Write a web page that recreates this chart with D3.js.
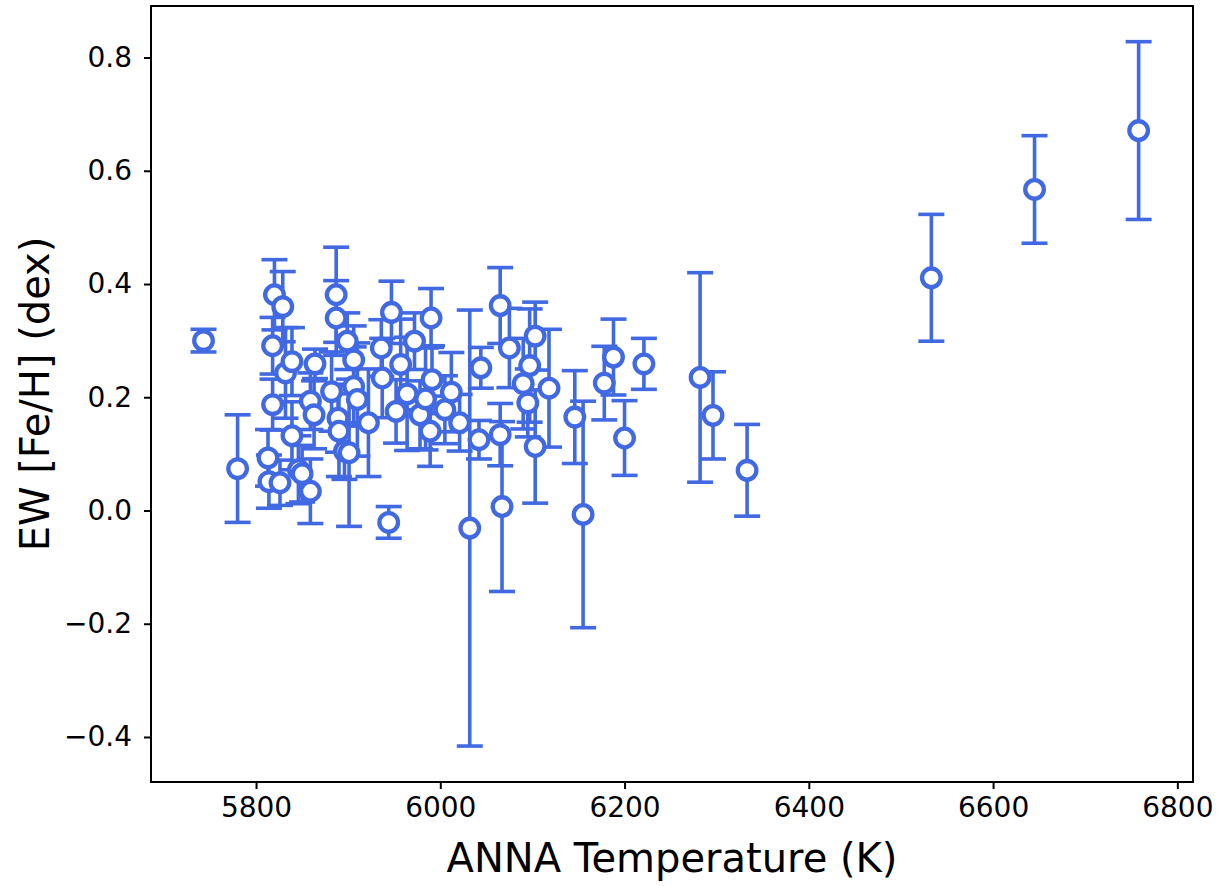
<!DOCTYPE html>
<html>
<head>
<meta charset="utf-8">
<script src="https://cdn.jsdelivr.net/npm/d3@7"></script>
<style>
  body { margin: 0; background: #fff; }
  text { font-family: "DejaVu Sans", sans-serif; }
</style>
</head>
<body>
<div id="chart"></div>
<script>
// data
var temps = [5743, 5780, 5813, 5814, 5818, 5818, 5820, 5826, 5829, 5832,
             5839, 5839, 5846, 5850, 5859, 5859, 5863, 5864, 5882, 5887,
             5887, 5889, 5890, 5899, 5896, 5901, 5906, 5906, 5910, 5922,
             5936, 5937, 5944, 5947, 5952, 5957, 5964, 5972, 5978, 5984,
             5990, 5991, 5989, 6005, 6012, 6021, 6032, 6042, 6044, 6065,
             6065, 6067, 6075, 6090, 6095, 6097, 6103, 6103, 6118, 6146,
             6155, 6178, 6188, 6200, 6221, 6282, 6296, 6333, 6533, 6645, 6758];
var feh   = [0.300, 0.074, 0.093, 0.051, 0.187, 0.291, 0.381, 0.049, 0.360, 0.243,
             0.263, 0.132, 0.072, 0.065, 0.034, 0.193, 0.169, 0.259, 0.210, 0.381,
             0.340, 0.163, 0.140, 0.299, 0.105, 0.102, 0.266, 0.219, 0.196, 0.155,
             0.287, 0.234, -0.021, 0.350, 0.175, 0.258, 0.206, 0.299, 0.169, 0.197,
             0.340, 0.231, 0.140, 0.178, 0.209, 0.155, -0.031, 0.125, 0.252, 0.362,
             0.134, 0.007, 0.287, 0.224, 0.190, 0.256, 0.308, 0.113, 0.216, 0.165,
             -0.007, 0.225, 0.271, 0.128, 0.259, 0.235, 0.168, 0.071, 0.411, 0.567, 0.671];
var fehErr = [0.020, 0.095, 0.050, 0.047, 0.045, 0.050, 0.062, 0.040, 0.062, 0.080,
              0.060, 0.060, 0.060, 0.050, 0.057, 0.050, 0.060, 0.026, 0.070, 0.084,
              0.066, 0.060, 0.080, 0.050, 0.050, 0.130, 0.060, 0.070, 0.100, 0.095,
              0.050, 0.070, 0.028, 0.055, 0.056, 0.080, 0.100, 0.050, 0.060, 0.090,
              0.052, 0.060, 0.062, 0.060, 0.070, 0.050, 0.385, 0.034, 0.036, 0.067,
              0.055, 0.150, 0.070, 0.080, 0.060, 0.100, 0.060, 0.100, 0.104, 0.082,
              0.200, 0.065, 0.067, 0.066, 0.045, 0.185, 0.077, 0.081, 0.112, 0.095, 0.157];
var xTicks = [5800, 6000, 6200, 6400, 6600, 6800];
var yTicks = [-0.4, -0.2, 0.0, 0.2, 0.4, 0.6, 0.8];

var data = temps.map(function(t, i) { return {t: t, v: feh[i], e: fehErr[i]}; });

var margin = {top: 6, right: 35, bottom: 104, left: 151},
    width = 1228 - margin.left - margin.right,
    height = 886 - margin.top - margin.bottom;

var color = "#4169e1";

var svg = d3.select("#chart")
  .append("svg")
    .attr("width", 1228)
    .attr("height", 886)
  .append("g")
    .attr("transform", "translate(" + margin.left + "," + margin.top + ")");

var x = d3.scaleLinear()
  .domain([5686, 6817])
  .range([0, width]);

var y = d3.scaleLinear()
  .domain([-0.4795, 0.891])
  .range([height, 0]);

// axes
var xAxis = svg.append("g")
  .attr("transform", "translate(0," + height + ")")
  .call(d3.axisBottom(x).tickValues(xTicks).tickFormat(d3.format("d")).tickSize(7).tickPadding(8));

var yAxis = svg.append("g")
  .call(d3.axisLeft(y).tickValues(yTicks).tickFormat(d3.format(".1f")).tickSize(7).tickPadding(12));

[xAxis, yAxis].forEach(function(a) {
  a.select(".domain").remove();
  a.selectAll("line").attr("stroke", "#000").attr("stroke-width", 2);
  a.selectAll("text").style("font-size", "28px").attr("fill", "#000");
});

// frame
svg.append("rect")
  .attr("width", width)
  .attr("height", height)
  .attr("fill", "none")
  .attr("stroke", "#000")
  .attr("stroke-width", 2);

// error bars
var bars = svg.append("g");
bars.selectAll("line.bar")
  .data(data)
  .enter()
  .append("line")
    .attr("x1", function(d) { return x(d.t); })
    .attr("x2", function(d) { return x(d.t); })
    .attr("y1", function(d) { return y(d.v - d.e); })
    .attr("y2", function(d) { return y(d.v + d.e); })
    .attr("stroke", color)
    .attr("stroke-width", 3.6);

var caps = [];
data.forEach(function(d) { caps.push({t: d.t, v: d.v + d.e}); caps.push({t: d.t, v: d.v - d.e}); });
bars.selectAll("line.cap")
  .data(caps)
  .enter()
  .append("line")
    .attr("x1", function(d) { return x(d.t) - 13; })
    .attr("x2", function(d) { return x(d.t) + 13; })
    .attr("y1", function(d) { return y(d.v); })
    .attr("y2", function(d) { return y(d.v); })
    .attr("stroke", color)
    .attr("stroke-width", 3.6);

// markers
svg.append("g")
  .selectAll("circle")
  .data(data)
  .enter()
  .append("circle")
    .attr("cx", function(d) { return x(d.t); })
    .attr("cy", function(d) { return y(d.v); })
    .attr("r", 9.3)
    .attr("fill", "#fff")
    .attr("stroke", color)
    .attr("stroke-width", 4.3);

// axis labels
svg.append("text")
  .attr("x", width / 2)
  .attr("y", height + 90)
  .attr("text-anchor", "middle")
  .style("font-size", "40px")
  .text("ANNA Temperature (K)");

svg.append("text")
  .attr("transform", "translate(" + (-102) + "," + (height / 2) + ") rotate(-90)")
  .attr("text-anchor", "middle")
  .style("font-size", "40px")
  .text("EW [Fe/H] (dex)");
</script>
</body>
</html>
